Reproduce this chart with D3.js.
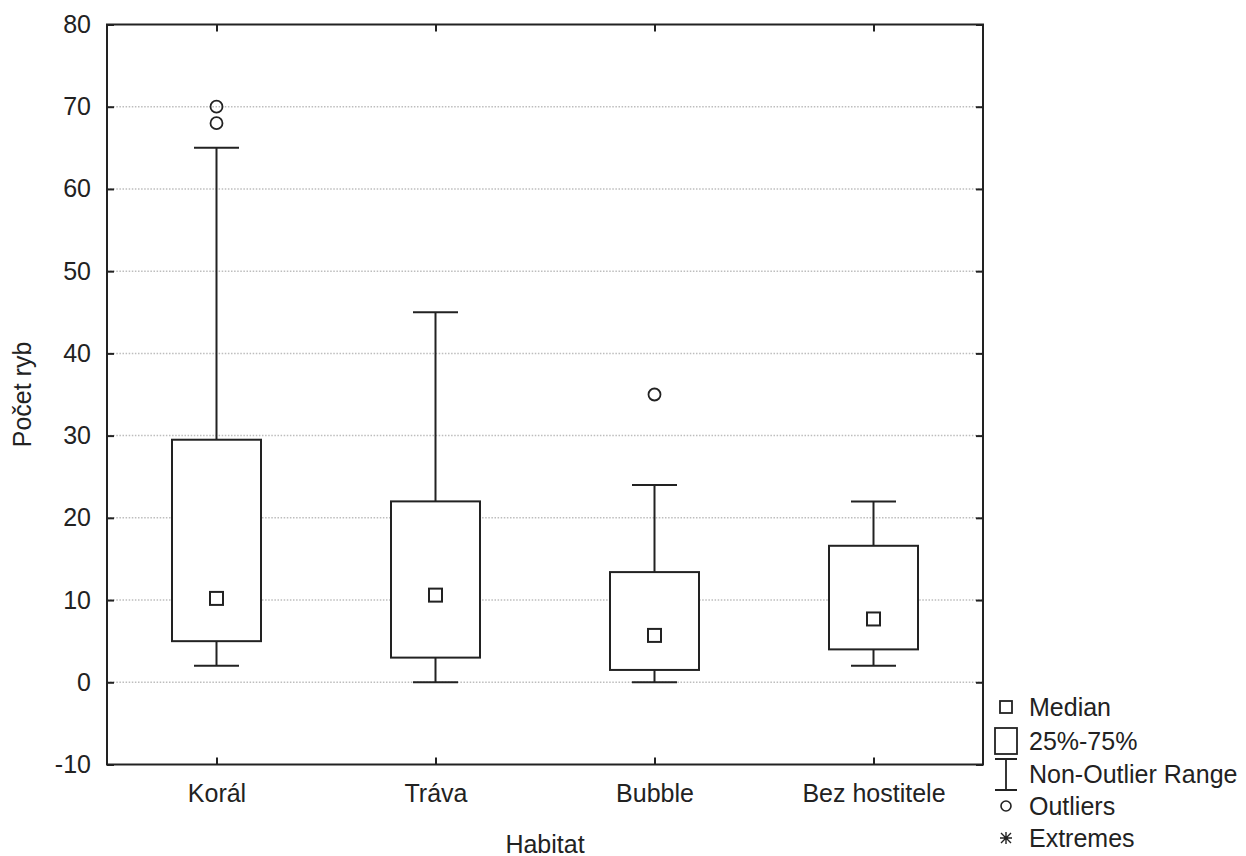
<!DOCTYPE html>
<html>
<head>
<meta charset="utf-8">
<script src="https://cdn.jsdelivr.net/npm/d3@7"></script>
<style>
  body { margin: 0; background: #fff; }
  text { font-family: "Liberation Sans", Arial, sans-serif; fill: #222; }
</style>
</head>
<body>
<div id="chart"></div>
<script>
// data
let categories = ['Korál', 'Tráva', 'Bubble', 'Bez hostitele'];
let mins = [2, 0, 0, 2];
let q1s = [5, 3, 1.5, 4];
let medians = [10.2, 10.6, 5.7, 7.7];
let q3s = [29.5, 22, 13.4, 16.6];
let maxs = [65, 45, 24, 22];
let outliers = [[70, 68], [], [35], []];
let yTicks = [-10, 0, 10, 20, 30, 40, 50, 60, 70, 80];
let legendLabels = ['Median', '25%-75%', 'Non-Outlier Range', 'Outliers', 'Extremes'];

let svgWidth = 1246;
let svgHeight = 856;
let fontSize = 25;
let ink = '#222';
let margin = { top: 24.5, right: 263, bottom: 91.5, left: 107 };
let width = svgWidth - margin.left - margin.right;
let height = svgHeight - margin.top - margin.bottom;

let svg = d3.select('#chart')
    .append('svg')
    .attr('width', svgWidth)
    .attr('height', svgHeight);

let chartgroup = svg.append('g')
    .attr('transform', `translate(${margin.left},${margin.top})`);

let x = d3.scalePoint()
    .domain(categories)
    .range([0, width])
    .padding(0.5);

let y = d3.scaleLinear()
    .domain([-10, 80])
    .range([height, 0]);

// dotted grid
chartgroup.append('g')
    .selectAll('line')
    .data(yTicks.filter(d => d > -10 && d < 80))
    .enter()
    .append('line')
    .attr('x1', 0)
    .attr('x2', width)
    .attr('y1', d => y(d))
    .attr('y2', d => y(d))
    .attr('stroke', '#bdbdbd')
    .attr('stroke-width', 1.5)
    .attr('stroke-dasharray', '1.5,1.6');

// build rows for the boxes
let rows = categories.map((c, i) => ({
    cat: c, lo: mins[i], q1: q1s[i], med: medians[i], q3: q3s[i], hi: maxs[i], out: outliers[i]
}));

let boxW = 89;
let capW = 45;
let medS = 13;

let boxes = chartgroup.selectAll('.box')
    .data(rows)
    .enter()
    .append('g')
    .attr('class', 'box')
    .attr('transform', d => `translate(${x(d.cat)},0)`);

// whiskers
boxes.append('line')
    .attr('x1', 0).attr('x2', 0)
    .attr('y1', d => y(d.hi)).attr('y2', d => y(d.lo))
    .attr('stroke', ink).attr('stroke-width', 2);
boxes.append('line')
    .attr('x1', -capW / 2).attr('x2', capW / 2)
    .attr('y1', d => y(d.hi)).attr('y2', d => y(d.hi))
    .attr('stroke', ink).attr('stroke-width', 2);
boxes.append('line')
    .attr('x1', -capW / 2).attr('x2', capW / 2)
    .attr('y1', d => y(d.lo)).attr('y2', d => y(d.lo))
    .attr('stroke', ink).attr('stroke-width', 2);

// box 25%-75%
boxes.append('rect')
    .attr('x', -boxW / 2)
    .attr('width', boxW)
    .attr('y', d => y(d.q3))
    .attr('height', d => y(d.q1) - y(d.q3))
    .attr('fill', '#fff')
    .attr('stroke', ink)
    .attr('stroke-width', 2);

// median square
boxes.append('rect')
    .attr('x', -medS / 2)
    .attr('width', medS)
    .attr('y', d => y(d.med) - medS / 2)
    .attr('height', medS)
    .attr('fill', '#fff')
    .attr('stroke', ink)
    .attr('stroke-width', 2);

// outliers
boxes.selectAll('circle')
    .data(d => d.out)
    .enter()
    .append('circle')
    .attr('cx', 0)
    .attr('cy', d => y(d))
    .attr('r', 6)
    .attr('fill', 'none')
    .attr('stroke', ink)
    .attr('stroke-width', 1.8);

// axes with inward ticks
function styleAxis(g) {
    g.select('.domain').remove();
    g.selectAll('.tick line').attr('stroke', ink).attr('stroke-width', 2);
    g.selectAll('.tick text')
        .attr('font-family', '"Liberation Sans", Arial, sans-serif')
        .attr('font-size', fontSize)
        .attr('fill', ink);
}

chartgroup.append('g')
    .call(d3.axisLeft(y).tickValues(yTicks).tickFormat(d => String(d))
        .tickSizeInner(-7).tickSizeOuter(0).tickPadding(16))
    .call(styleAxis);

chartgroup.append('g')
    .attr('transform', `translate(${width},0)`)
    .call(d3.axisRight(y).tickValues(yTicks).tickSizeInner(-7).tickSizeOuter(0).tickFormat(''))
    .call(styleAxis);

chartgroup.append('g')
    .attr('transform', `translate(0,${height})`)
    .call(d3.axisBottom(x).tickSizeInner(-7).tickSizeOuter(0).tickPadding(20))
    .call(styleAxis);

chartgroup.append('g')
    .call(d3.axisTop(x).tickSizeInner(-7).tickSizeOuter(0).tickFormat(''))
    .call(styleAxis);

// frame
chartgroup.append('rect')
    .attr('width', width)
    .attr('height', height)
    .attr('fill', 'none')
    .attr('stroke', ink)
    .attr('stroke-width', 2);

// axis titles
chartgroup.append('text')
    .attr('x', width / 2)
    .attr('y', height + 88)
    .attr('text-anchor', 'middle')
    .attr('font-size', fontSize)
    .text('Habitat');

chartgroup.append('text')
    .attr('transform', 'rotate(-90)')
    .attr('x', -height / 2)
    .attr('y', 31 - margin.left)
    .attr('text-anchor', 'middle')
    .attr('font-size', fontSize)
    .text('Počet ryb');

// legend
let legend = svg.append('g')
    .attr('transform', 'translate(1006,0)');
let legY = [707, 741, 774, 806, 838];

legend.append('rect')
    .attr('x', -6).attr('y', legY[0] - 6).attr('width', 12).attr('height', 12)
    .attr('fill', 'none').attr('stroke', ink).attr('stroke-width', 1.8);
legend.append('rect')
    .attr('x', -11).attr('y', legY[1] - 13).attr('width', 22).attr('height', 26)
    .attr('fill', 'none').attr('stroke', ink).attr('stroke-width', 1.8);
legend.append('path')
    .attr('d', `M-11,${legY[2] - 15}H11M0,${legY[2] - 15}V${legY[2] + 16}M-11,${legY[2] + 16}H11`)
    .attr('fill', 'none').attr('stroke', ink).attr('stroke-width', 1.8);
legend.append('circle')
    .attr('cx', 0).attr('cy', legY[3]).attr('r', 5)
    .attr('fill', 'none').attr('stroke', ink).attr('stroke-width', 1.6);
legend.append('path')
    .attr('d', `M-6,${legY[4]}H6M0,${legY[4] - 6}V${legY[4] + 6}M-5,${legY[4] - 5}L5,${legY[4] + 5}M5,${legY[4] - 5}L-5,${legY[4] + 5}`)
    .attr('fill', 'none').attr('stroke', ink).attr('stroke-width', 1.4);

legend.selectAll('.legtext')
    .data(legendLabels)
    .enter()
    .append('text')
    .attr('class', 'legtext')
    .attr('x', 23)
    .attr('y', (d, i) => legY[i])
    .attr('dy', '0.36em')
    .attr('font-size', fontSize)
    .text(d => d);
</script>
</body>
</html>
